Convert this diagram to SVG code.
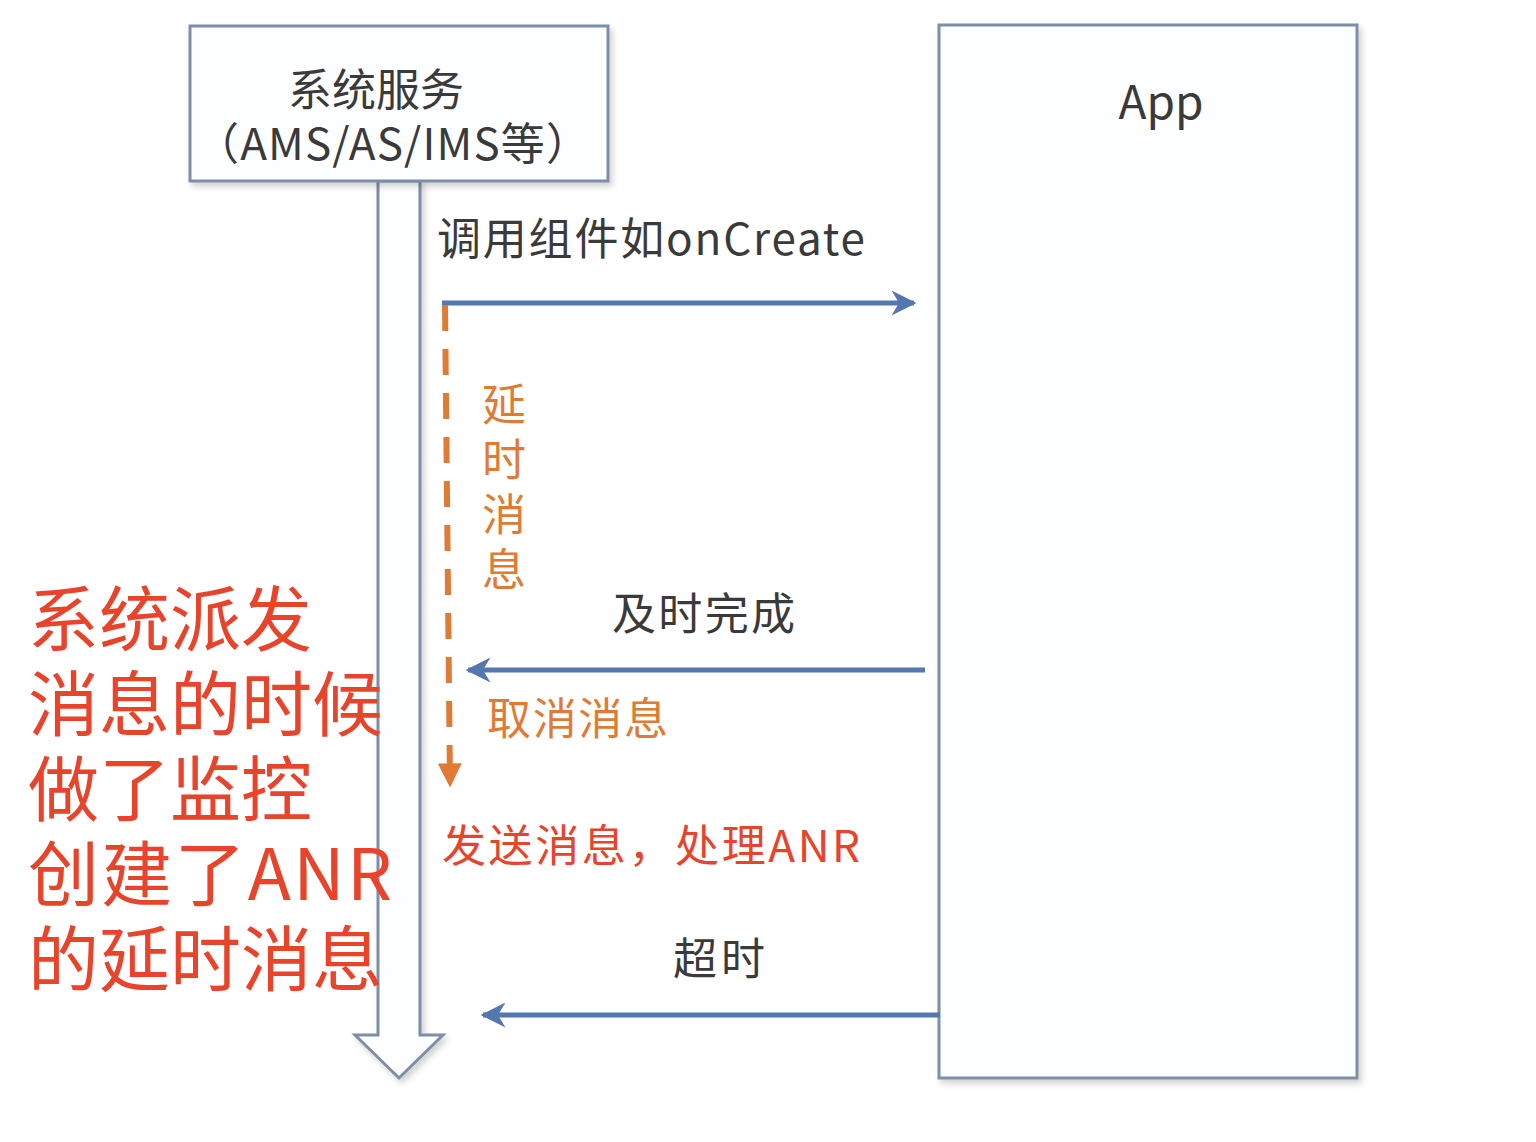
<svg xmlns="http://www.w3.org/2000/svg" width="1536" height="1142" viewBox="0 0 1536 1142">
<defs>
<style>
.box{fill:#fdfeff;stroke:#7d8ea6;stroke-width:3}
.t{font-family:"Noto Sans CJK SC","Noto Sans",sans-serif;fill:#3a3a3a}
.blue{stroke:#5577b0;stroke-width:5;fill:none}
.or{fill:#e07b35;font-family:"Noto Sans CJK SC","Noto Sans",sans-serif}
.red{font-family:"Noto Sans CJK SC","Noto Sans",sans-serif;fill:#e8432b}
</style>
<marker id="ab" viewBox="0 0 10 10" refX="9" refY="5" markerWidth="5" markerHeight="5" markerUnits="strokeWidth" orient="auto">
<path d="M0,0 L10,5 L0,10 L3,5 Z" fill="#5577b0"/>
</marker>
<marker id="ao" viewBox="0 0 10 10" refX="9" refY="5" markerWidth="4" markerHeight="4" markerUnits="strokeWidth" orient="auto">
<path d="M0,0 L10,5 L0,10 Z" fill="#e07b35"/>
</marker>
<filter id="sh" x="-10%" y="-10%" width="130%" height="130%">
<feDropShadow dx="3" dy="4" stdDeviation="3" flood-color="#000" flood-opacity="0.18"/>
</filter>
</defs>
<rect width="1536" height="1142" fill="#ffffff"/>
<g id="app">
<rect class="box" x="939" y="25" width="418" height="1053" filter="url(#sh)"/>
<text class="t" x="1161" y="119" font-size="46" text-anchor="middle">App</text>
</g>
<g id="timeline">
<path class="box" d="M378,181 L420,181 L420,1035 L443,1035 L399,1078 L355,1035 L378,1035 Z" filter="url(#sh)"/>
</g>
<g id="service">
<rect class="box" x="190" y="26" width="418" height="155" filter="url(#sh)"/>
<text class="t" x="376" y="106" font-size="44" text-anchor="middle">系统服务</text>
<text class="t" x="195" y="160" font-size="44" textLength="395" lengthAdjust="spacing">（AMS/AS/IMS等）</text>
</g>
<g id="connectors">
<line class="blue" x1="442" y1="303" x2="914" y2="303" marker-end="url(#ab)"/>
<line x1="445" y1="305" x2="450" y2="785" stroke="#e07b35" stroke-width="6" stroke-dasharray="26,18" marker-end="url(#ao)"/>
<line class="blue" x1="925" y1="670" x2="468" y2="670" marker-end="url(#ab)"/>
<line class="blue" x1="940" y1="1015" x2="483" y2="1015" marker-end="url(#ab)"/>
</g>
<g id="labels">
<text class="t" x="437" y="255" font-size="44" textLength="428" lengthAdjust="spacing">调用组件如onCreate</text>
<text class="or" font-size="44" x="482" y="421">延</text>
<text class="or" font-size="44" x="482" y="476">时</text>
<text class="or" font-size="44" x="482" y="531">消</text>
<text class="or" font-size="44" x="482" y="586">息</text>
<text class="t" x="612" y="630" font-size="44" textLength="183" lengthAdjust="spacing">及时完成</text>
<text class="or" font-size="44" x="487" y="735" textLength="181" lengthAdjust="spacing">取消消息</text>
<text class="red" x="442" y="862" font-size="44" textLength="418" lengthAdjust="spacing">发送消息，处理ANR</text>
<text class="t" x="673" y="975" font-size="44" textLength="92" lengthAdjust="spacing">超时</text>
</g>
<g id="note" font-size="71">
<text class="red" x="28" y="645">系统派发</text>
<text class="red" x="28" y="730">消息的时候</text>
<text class="red" x="28" y="815">做了监控</text>
<text class="red" x="28" y="900" textLength="364" lengthAdjust="spacing">创建了ANR</text>
<text class="red" x="28" y="985">的延时消息</text>
</g>
</svg>
